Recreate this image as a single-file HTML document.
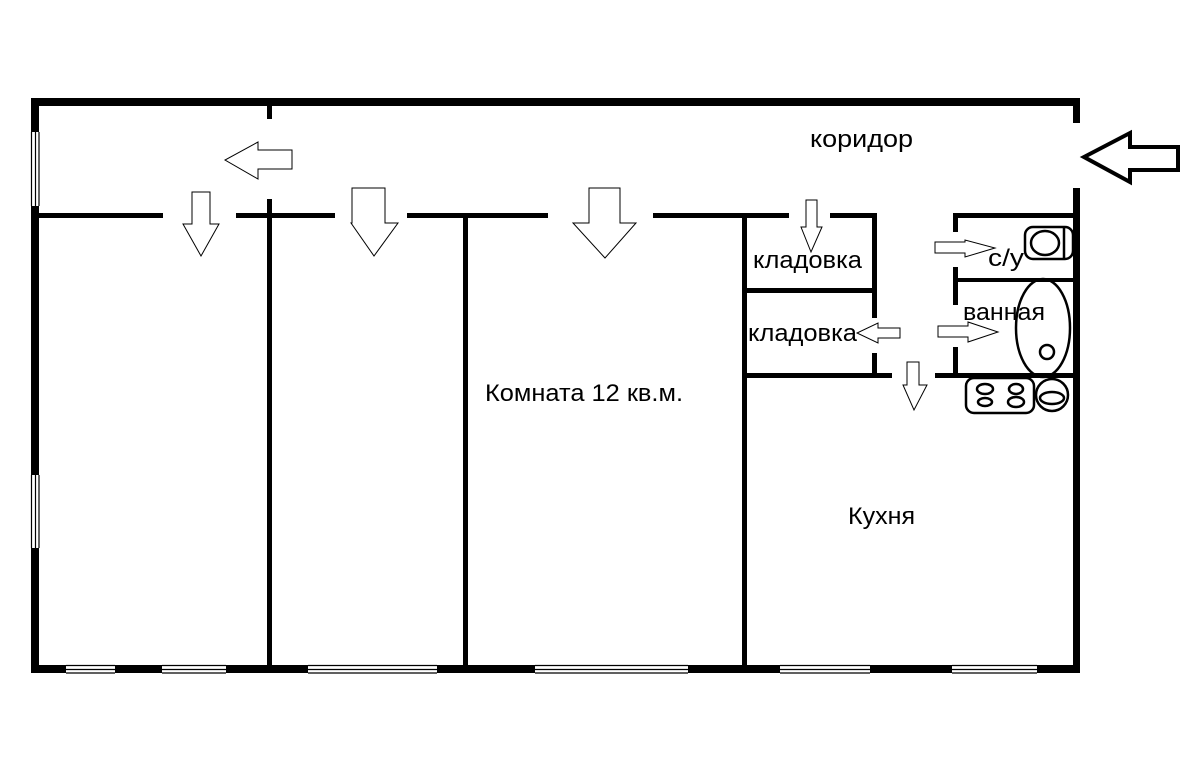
<!DOCTYPE html>
<html><head><meta charset="utf-8"><style>html,body{margin:0;padding:0;background:#fff}svg{display:block}</style></head><body>
<svg width="1194" height="759" viewBox="0 0 1194 759" xmlns="http://www.w3.org/2000/svg" font-family="Liberation Sans, DejaVu Sans, sans-serif">
<rect width="1194" height="759" fill="#fff"/>
<g fill="#000">
<rect x="31" y="98" width="1049" height="8"/>
<rect x="31" y="98" width="8" height="575"/>
<rect x="31" y="665" width="1049" height="8"/>
<rect x="1073" y="98" width="7" height="25"/>
<rect x="1073" y="188" width="7" height="485"/>
<rect x="39" y="213" width="124" height="5"/>
<rect x="236" y="213" width="99" height="5"/>
<rect x="407" y="213" width="141" height="5"/>
<rect x="653" y="213" width="136" height="5"/>
<rect x="830" y="213" width="47" height="5"/>
<rect x="953" y="213" width="127" height="5"/>
<rect x="267" y="106" width="5" height="13"/>
<rect x="267" y="199" width="5" height="466"/>
<rect x="463" y="213" width="5" height="452"/>
<rect x="742" y="213" width="5" height="452"/>
<rect x="872" y="213" width="5" height="105"/>
<rect x="872" y="353" width="5" height="25"/>
<rect x="742" y="288" width="135" height="5"/>
<rect x="742" y="373" width="150" height="5"/>
<rect x="935" y="373" width="145" height="5"/>
<rect x="953" y="213" width="5" height="19"/>
<rect x="953" y="267" width="5" height="38"/>
<rect x="953" y="347" width="5" height="31"/>
<rect x="953" y="278" width="120" height="4"/>
</g>
<g>
<rect x="66" y="664" width="49" height="10" fill="#fff"/>
<rect x="162" y="664" width="64" height="10" fill="#fff"/>
<rect x="308" y="664" width="129" height="10" fill="#fff"/>
<rect x="535" y="664" width="153" height="10" fill="#fff"/>
<rect x="780" y="664" width="90" height="10" fill="#fff"/>
<rect x="952" y="664" width="85" height="10" fill="#fff"/>
<rect x="31" y="132" width="9" height="74" fill="#fff"/>
<rect x="31" y="475" width="9" height="73" fill="#fff"/>
</g>
<g stroke="#000" stroke-width="1.2">
<path d="M66 665.5H115M66 669.5H115M66 673H115"/>
<path d="M162 665.5H226M162 669.5H226M162 673H226"/>
<path d="M308 665.5H437M308 669.5H437M308 673H437"/>
<path d="M535 665.5H688M535 669.5H688M535 673H688"/>
<path d="M780 665.5H870M780 669.5H870M780 673H870"/>
<path d="M952 665.5H1037M952 669.5H1037M952 673H1037"/>
<path d="M31.5 132V206M35.5 132V206M39 132V206"/>
<path d="M31.5 475V548M35.5 475V548M39 475V548"/>
</g>
<g fill="#fff" stroke="#000" stroke-width="1">
<path d="M292 150H258V142L225 160L258 179V169H292Z"/>
<path d="M192 192H210V224H219L201 256L183 224H192Z"/>
<path d="M352 188H385V223H398L374 256L351 223H352Z"/>
<path d="M589 188H620V223H636L605 258L573 223H589Z"/>
<path d="M806 200H817V227H822L811 252L801 227H806Z"/>
<path d="M935 242H965V240L995 248L965 257V253H935Z"/>
<path d="M900 328H878V323L857 333L878 343V338H900Z"/>
<path d="M938 326H968V322L998 332L968 342V337H938Z"/>
<path d="M907 362H919V385H927L914 410L903 385H907Z"/>
</g>
<path d="M1178 147H1130V133L1084 157L1130 182V170H1178Z" fill="#fff" stroke="#000" stroke-width="4" stroke-linejoin="miter"/>
<g fill="none" stroke="#000" stroke-width="2.5">
<rect x="1025" y="227" width="48" height="32" rx="8"/>
<ellipse cx="1045" cy="243" rx="14" ry="12"/>
<line x1="1064" y1="228" x2="1064" y2="258"/>
<ellipse cx="1043" cy="328" rx="27" ry="49"/>
<circle cx="1047" cy="352" r="7"/>
<rect x="966" y="378" width="68" height="35" rx="8"/>
<ellipse cx="985" cy="389" rx="8" ry="5"/>
<ellipse cx="985" cy="402" rx="7" ry="4"/>
<ellipse cx="1016" cy="389" rx="7" ry="5"/>
<ellipse cx="1016" cy="402" rx="8" ry="5"/>
<circle cx="1052" cy="395" r="16"/>
<ellipse cx="1052" cy="398" rx="12" ry="6"/>
</g>
<g fill="#000" font-size="24">
<text x="810" y="147" textLength="103" lengthAdjust="spacingAndGlyphs">коридор</text>
<text x="753" y="268" textLength="109" lengthAdjust="spacingAndGlyphs">кладовка</text>
<text x="748" y="341" textLength="109" lengthAdjust="spacingAndGlyphs">кладовка</text>
<text x="988" y="266" textLength="36" lengthAdjust="spacingAndGlyphs">с/у</text>
<text x="963" y="320" textLength="82" lengthAdjust="spacingAndGlyphs">ванная</text>
<text x="485" y="401" textLength="198" lengthAdjust="spacingAndGlyphs">Комната 12 кв.м.</text>
<text x="848" y="524" textLength="67" lengthAdjust="spacingAndGlyphs">Кухня</text>
</g>
</svg>
</body></html>
